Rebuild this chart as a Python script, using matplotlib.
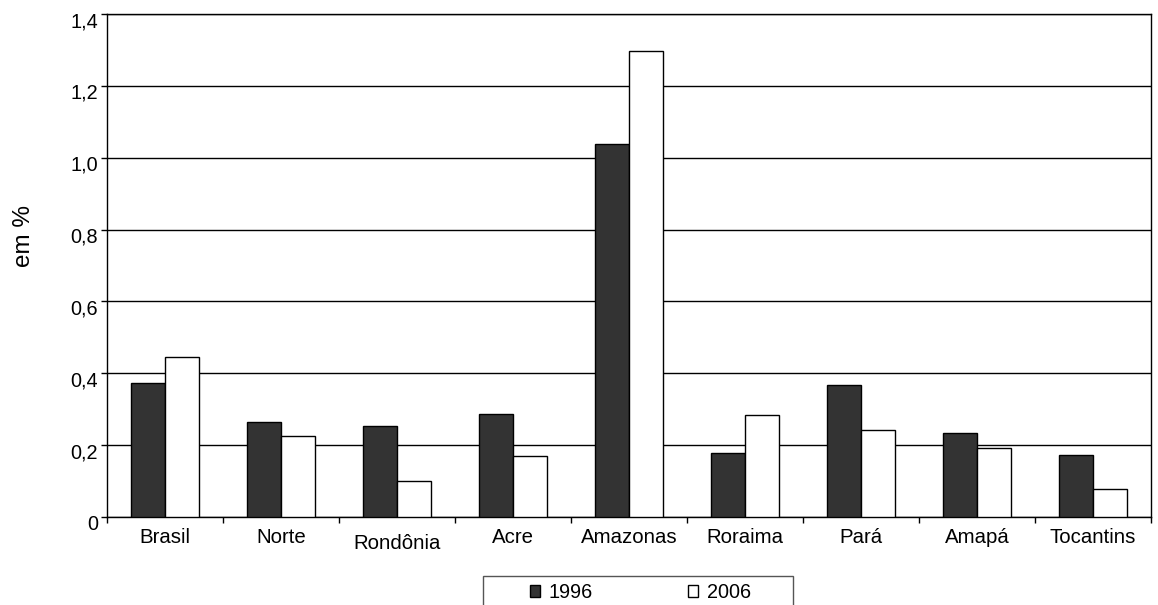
import numpy as np
import matplotlib.pyplot as plt
from matplotlib.patches import Patch, Rectangle
from matplotlib.transforms import ScaledTranslation

# Dados (em %)
regioes = ['Brasil', 'Norte', 'Rondônia', 'Acre', 'Amazonas',
           'Roraima', 'Pará', 'Amapá', 'Tocantins']
v1996 = [0.373, 0.264, 0.253, 0.287, 1.038, 0.178, 0.367, 0.234, 0.173]
v2006 = [0.445, 0.225, 0.100, 0.170, 1.297, 0.284, 0.242, 0.192, 0.078]
yticks = [0, 0.2, 0.4, 0.6, 0.8, 1.0, 1.2, 1.4]
ylabels = ['0', '0,2', '0,4', '0,6', '0,8', '1,0', '1,2', '1,4']

plt.rcParams['font.family'] = ['Liberation Sans', 'DejaVu Sans']

W, H = 1158, 605
fig = plt.figure(figsize=(W / 100, H / 100), dpi=100)
ax = fig.add_axes([107 / W, 88 / H, 1044 / W, 503 / H])

x = np.arange(len(regioes))
w = 0.29
ax.bar(x - w / 2, v1996, w, color='#333333', edgecolor='black', linewidth=1, zorder=3)
ax.bar(x + w / 2, v2006, w, color='white', edgecolor='black', linewidth=1, zorder=3)

ax.set_xlim(-0.5, len(regioes) - 0.5)
ax.set_ylim(0, 1.4)
ax.set_yticks(yticks)
ax.set_yticklabels(ylabels)
ax.yaxis.grid(True, color='black', linewidth=1, zorder=0)
ax.set_axisbelow(True)

ax.set_xticks(x)
ax.set_xticklabels(regioes)
ax.set_xticks(np.arange(-0.5, len(regioes), 1), minor=True)
ax.tick_params(axis='x', which='major', length=0, pad=8, labelsize=14.7)
ax.tick_params(axis='x', which='minor', length=4, direction='out', width=1)
ax.tick_params(axis='y', length=4, pad=2.5, labelsize=14.3, width=1)

# rótulos do eixo y logo abaixo da linha de grade
for lab in ax.get_yticklabels():
    lab.set_verticalalignment('top')
    lab.set_transform(lab.get_transform() + ScaledTranslation(0, 2 / 100, fig.dpi_scale_trans))

# Rondônia um pouco mais baixo, como no original
lab = ax.get_xticklabels()[regioes.index('Rondônia')]
lab.set_transform(lab.get_transform() + ScaledTranslation(0, -6 / 100, fig.dpi_scale_trans))

for s in ax.spines.values():
    s.set_linewidth(1)
    s.set_color('black')

fig.text(24 / W, 1 - 236 / H, 'em %', rotation=90, ha='center', va='center', fontsize=17.5)

# legenda
handles = [Patch(facecolor='#333333', edgecolor='black', label='1996'),
           Patch(facecolor='white', edgecolor='black', label='2006')]
leg = fig.legend(handles=handles, loc='upper left', bbox_to_anchor=(520 / W, 1 - 573 / H),
                 ncol=2, fontsize=14.3, frameon=False, borderpad=0,
                 handlelength=0.5, handleheight=0.6, handletextpad=0.45, columnspacing=4.8)
fig.patches.append(Rectangle((483 / W, -0.1), 310 / W, 0.1 + (605 - 576) / H,
                             transform=fig.transFigure, fill=False, edgecolor='#555555',
                             linewidth=1))

fig.savefig('out.png', dpi=100)
